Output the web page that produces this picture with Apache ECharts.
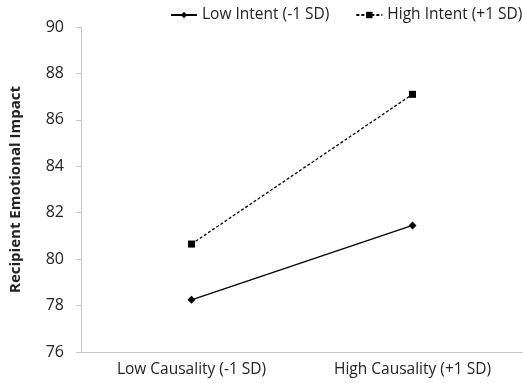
<!DOCTYPE html>
<html>
<head>
<meta charset="utf-8">
<script src="https://cdn.jsdelivr.net/npm/echarts@6/dist/echarts.min.js"></script>
<style>
  html, body { margin: 0; padding: 0; background: #fff; }
  #chart { width: 523px; height: 383px; }
</style>
</head>
<body>
<div id="chart"></div>
<script>
// categories and values
var categories = ["Low Causality (-1 SD)", "High Causality (+1 SD)"];
var lowIntent = [78.25, 81.45];
var highIntent = [80.65, 87.1];
var seriesNames = ["Low Intent (-1 SD)", "High Intent (+1 SD)"];

var chart = echarts.init(document.getElementById("chart"));
var font = "Open Sans";

var option = {
    animation: false,
    grid: { left: 81, right: 0, top: 27, bottom: 31 },
    legend: {
        top: 7,
        left: 170,
        padding: 0,
        width: 353,
        orient: "horizontal",
        itemWidth: 26,
        itemHeight: 8,
        itemGap: 26,
        textStyle: { fontFamily: font, fontSize: 15.5, color: "#222" },
        data: seriesNames
    },
    xAxis: {
        type: "category",
        data: categories,
        boundaryGap: true,
        axisLine: { lineStyle: { color: "#c8c8c8", width: 1 } },
        axisTick: { length: 4, lineStyle: { color: "#c8c8c8" } },
        axisLabel: { margin: 10, fontFamily: font, fontSize: 15.5, color: "#222" }
    },
    yAxis: {
        type: "value",
        min: 76,
        max: 90,
        interval: 2,
        name: "Recipient Emotional Impact",
        nameLocation: "middle",
        nameGap: 58,
        nameTextStyle: { fontFamily: font, fontSize: 15, fontWeight: "bold", color: "#222" },
        axisLine: { show: true, lineStyle: { color: "#c8c8c8", width: 1 } },
        axisTick: { show: true, length: 5, lineStyle: { color: "#c8c8c8" } },
        splitLine: { show: false },
        axisLabel: { margin: 17, fontFamily: font, fontSize: 16, color: "#222" }
    },
    series: [
        {
            name: seriesNames[0],
            type: "line",
            data: lowIntent,
            symbol: "diamond",
            symbolSize: 8,
            itemStyle: { color: "#000" },
            lineStyle: { color: "#000", width: 1.3 }
        },
        {
            name: seriesNames[1],
            type: "line",
            data: highIntent,
            symbol: "rect",
            symbolSize: 7,
            itemStyle: { color: "#000" },
            lineStyle: { color: "#000", width: 1.3, type: [3, 2] }
        }
    ]
};
chart.setOption(option);
</script>
</body>
</html>
